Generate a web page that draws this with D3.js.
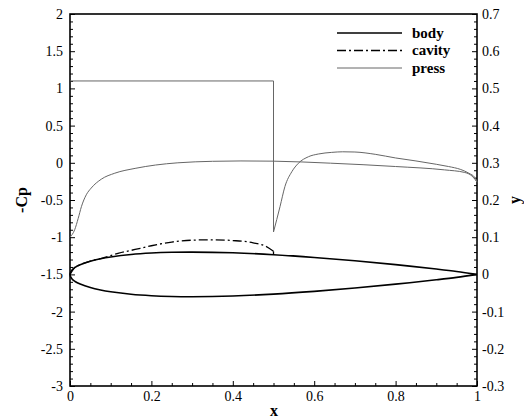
<!DOCTYPE html>
<html>
<head>
<meta charset="utf-8">
<script src="https://cdn.jsdelivr.net/npm/d3@7/dist/d3.min.js"></script>
<style>
  html, body { margin: 0; padding: 0; background: #fff; }
  svg { display: block; }
  text { font-family: "Liberation Serif", "Times New Roman", serif; fill: #000; }
</style>
</head>
<body>
<svg id="chart" width="524" height="419"></svg>
<script>
// Hydrofoil section (y, right axis) and pressure distribution (-Cp, left axis)
const bodyX     = [0, 0.005, 0.0125, 0.025, 0.05, 0.075, 0.1, 0.15, 0.2, 0.25, 0.3, 0.4, 0.5, 0.6, 0.7, 0.8, 0.9, 0.95, 1.0];
const bodyUpper = [0, 0.0122, 0.019, 0.026, 0.0355, 0.042, 0.0468, 0.0535, 0.0574, 0.0594, 0.060, 0.058, 0.053, 0.0456, 0.0366, 0.0262, 0.0145, 0.008, 0.0];
const bodyLower = [0, -0.0122, -0.019, -0.026, -0.0355, -0.042, -0.0468, -0.0535, -0.0574, -0.0594, -0.060, -0.058, -0.053, -0.0456, -0.0366, -0.0262, -0.0145, -0.008, 0.0];

const cavityX = [0, 0.0125, 0.025, 0.05, 0.08, 0.12, 0.16, 0.2, 0.25, 0.3, 0.35, 0.4, 0.45, 0.48, 0.5, 0.5];
const cavityY = [0, 0.019, 0.026, 0.0358, 0.044, 0.057, 0.067, 0.077, 0.087, 0.092, 0.093, 0.091, 0.085, 0.076, 0.062, 0.053];

// -Cp over the wetted leading part and downstream
const pressAX = [0, 0.0115, 0.02, 0.028, 0.04, 0.052, 0.077, 0.11, 0.16, 0.21, 0.265, 0.35, 0.42, 0.5, 0.64, 0.8, 0.92, 0.97, 0.99, 1.0];
const pressAY = [-1.0, -0.90, -0.75, -0.59, -0.43, -0.34, -0.22, -0.14, -0.075, -0.03, 0.0, 0.02, 0.025, 0.022, -0.005, -0.05, -0.095, -0.13, -0.19, -0.26];

// -Cp with cavity plateau, then pressure recovery behind the cavity
const pressStepX = [0, 0.5, 0.5];
const pressStepY = [1.1, 1.1, -0.93];
const pressBX = [0.5, 0.516, 0.528, 0.545, 0.561, 0.586, 0.61, 0.643, 0.67, 0.70, 0.75, 0.8, 0.85, 0.9, 0.93, 0.96, 0.98, 0.995, 1.0];
const pressBY = [-0.93, -0.59, -0.32, -0.12, -0.007, 0.082, 0.118, 0.14, 0.148, 0.145, 0.114, 0.065, 0.025, -0.02, -0.05, -0.09, -0.14, -0.2, -0.26];

const xTicks  = [0, 0.2, 0.4, 0.6, 0.8, 1];
const yLTicks = [-3, -2.5, -2, -1.5, -1, -0.5, 0, 0.5, 1, 1.5, 2];
const yRTicks = [-0.3, -0.2, -0.1, 0, 0.1, 0.2, 0.3, 0.4, 0.5, 0.6, 0.7];
const legendNames = ["body", "cavity", "press"];

const svg = d3.select("#chart");
const plotL = 70, plotR = 477, plotT = 14, plotB = 386;
const serif = '"Liberation Serif", "Times New Roman", serif';

const x  = d3.scaleLinear().domain([0, 1]).range([plotL, plotR]);
const yL = d3.scaleLinear().domain([-3, 2]).range([plotB, plotT]);
const yR = d3.scaleLinear().domain([-0.3, 0.7]).range([plotB, plotT]);

const zip = (xs, ys) => xs.map((v, i) => [v, ys[i]]);
const plain = d => String(d);   // ASCII hyphen for negatives

// minor tick positions
const xMinor  = d3.range(0, 21).map(i => i * 0.05).filter((v, i) => i % 4 !== 0);
const yLMinor = d3.range(0, 51).map(i => -3 + i * 0.1).filter((v, i) => i % 5 !== 0);
const yRMinor = d3.range(0, 51).map(i => -0.3 + i * 0.02).filter((v, i) => i % 5 !== 0);

// axes: ticks point into the plot
function styleAxis(g) {
  g.attr("font-family", serif);
  g.select(".domain").remove();
  g.selectAll("line").attr("stroke", "#000").attr("stroke-width", 1);
  g.selectAll("text").style("font-family", serif).style("font-size", "14px").attr("fill", "#000");
}

svg.append("g").attr("transform", `translate(0,${plotB})`)
  .call(d3.axisBottom(x).tickValues(xTicks).tickFormat(plain).tickSizeInner(-5).tickSizeOuter(0).tickPadding(5))
  .call(styleAxis)
  .call(g => g.selectAll("text").attr("dy", "0.71em"));
svg.append("g").attr("transform", `translate(0,${plotB})`)
  .call(d3.axisBottom(x).tickValues(xMinor).tickFormat("").tickSizeInner(-3).tickSizeOuter(0))
  .call(styleAxis);

svg.append("g").attr("transform", `translate(${plotL},0)`)
  .call(d3.axisLeft(yL).tickValues(yLTicks).tickFormat(plain).tickSizeInner(-5).tickSizeOuter(0).tickPadding(7))
  .call(styleAxis);
svg.append("g").attr("transform", `translate(${plotL},0)`)
  .call(d3.axisLeft(yL).tickValues(yLMinor).tickFormat("").tickSizeInner(-3).tickSizeOuter(0))
  .call(styleAxis);

svg.append("g").attr("transform", `translate(${plotR},0)`)
  .call(d3.axisRight(yR).tickValues(yRTicks).tickFormat(plain).tickSizeInner(-5).tickSizeOuter(0).tickPadding(5))
  .call(styleAxis);
svg.append("g").attr("transform", `translate(${plotR},0)`)
  .call(d3.axisRight(yR).tickValues(yRMinor).tickFormat("").tickSizeInner(-3).tickSizeOuter(0))
  .call(styleAxis);

// plot frame
svg.append("rect")
  .attr("x", plotL).attr("y", plotT)
  .attr("width", plotR - plotL).attr("height", plotB - plotT)
  .attr("fill", "none").attr("stroke", "#000").attr("stroke-width", 1.6);

// curves
const lineL = d3.line().x(d => x(d[0])).y(d => yL(d[1]));
const lineR = d3.line().x(d => x(d[0])).y(d => yR(d[1]));

const pressColor = "#666";
svg.append("path").attr("d", lineL.curve(d3.curveLinear)(zip(pressStepX, pressStepY)))
  .attr("fill", "none").attr("stroke", pressColor).attr("stroke-width", 1);
svg.append("path").attr("d", lineL.curve(d3.curveMonotoneX)(zip(pressBX, pressBY)))
  .attr("fill", "none").attr("stroke", pressColor).attr("stroke-width", 1);
svg.append("path").attr("d", lineL.curve(d3.curveMonotoneX)(zip(pressAX, pressAY)))
  .attr("fill", "none").attr("stroke", pressColor).attr("stroke-width", 1);

// body contour: trailing edge -> lower side -> nose -> upper side -> trailing edge
const lowerPts = zip(bodyX, bodyLower).reverse();
const upperPts = zip(bodyX, bodyUpper).slice(1);
svg.append("path").attr("d", lineR.curve(d3.curveCatmullRom.alpha(0.5))(lowerPts.concat(upperPts)))
  .attr("fill", "none").attr("stroke", "#000").attr("stroke-width", 1.6);

// cavity outline: smooth dash-dot part, then closure onto the body
const dashDot = "9,3,2,3";
svg.append("path").attr("d", lineR.curve(d3.curveMonotoneX)(zip(cavityX.slice(0, -1), cavityY.slice(0, -1))))
  .attr("fill", "none").attr("stroke", "#000").attr("stroke-width", 1.3).attr("stroke-dasharray", dashDot);
svg.append("path").attr("d", lineR.curve(d3.curveLinear)(zip(cavityX.slice(-2), cavityY.slice(-2))))
  .attr("fill", "none").attr("stroke", "#000").attr("stroke-width", 1.3);

// legend
const legendStyles = [
  { stroke: "#000", width: 1.6, dash: null },
  { stroke: "#000", width: 1.3, dash: dashDot },
  { stroke: pressColor, width: 1, dash: null }
];
const lg = svg.append("g");
legendNames.forEach((name, i) => {
  const yy = 33 + i * 17.5;
  const s = legendStyles[i];
  lg.append("line").attr("x1", 337).attr("x2", 402).attr("y1", yy).attr("y2", yy)
    .attr("stroke", s.stroke).attr("stroke-width", s.width)
    .attr("stroke-dasharray", s.dash);
  lg.append("text").attr("x", 412).attr("y", yy + 4.5)
    .style("font-family", serif).style("font-size", "15px").style("font-weight", "bold").text(name);
});

// axis titles
svg.append("text").attr("x", 274).attr("y", 416).attr("text-anchor", "middle")
  .style("font-family", serif).style("font-size", "16px").style("font-weight", "bold").text("x");
svg.append("text").attr("transform", "translate(27,200) rotate(-90)").attr("text-anchor", "middle")
  .style("font-family", serif).style("font-size", "16px").style("font-weight", "bold").text("-Cp");
svg.append("text").attr("transform", "translate(520,200) rotate(-90)").attr("text-anchor", "middle")
  .style("font-family", serif).style("font-size", "16px").style("font-weight", "bold").text("y");
</script>
</body>
</html>
